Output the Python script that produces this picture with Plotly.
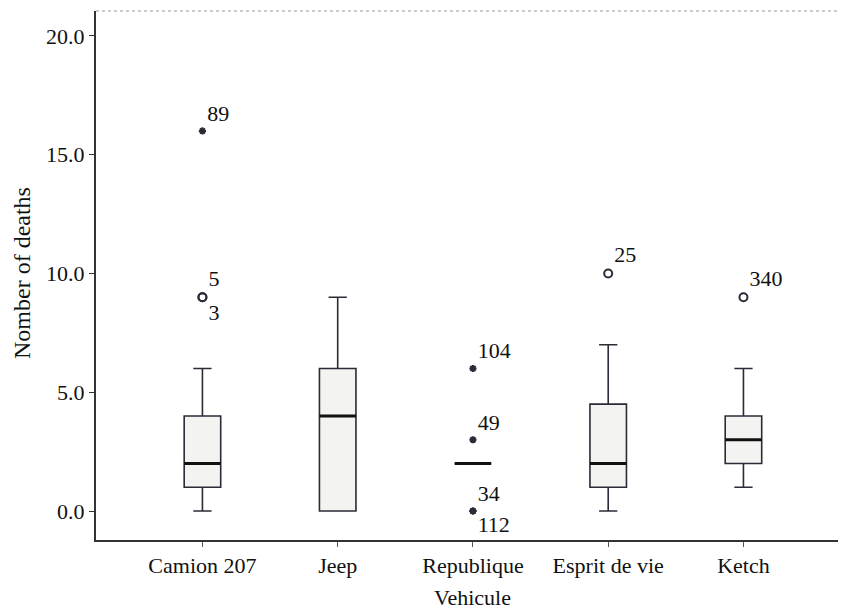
import plotly.graph_objects as go

# ---- data ----
categories = ["Camion 207", "Jeep", "Republique", "Esprit de vie", "Ketch"]
q1 = [1.0, 0.0, 2.0, 1.0, 2.0]
median = [2.0, 4.0, 2.0, 2.0, 3.0]
q3 = [4.0, 6.0, 2.0, 4.5, 4.0]
lower_fence = [0.0, 0.0, 2.0, 0.0, 1.0]
upper_fence = [6.0, 9.0, 2.0, 7.0, 6.0]

# outliers: category index, value, case label, kind ("o" mild, "*" extreme)
out_cat = [0, 0, 0, 2, 2, 2, 2, 3, 4]
out_val = [16.0, 9.0, 9.0, 6.0, 3.0, 0.0, 0.0, 10.0, 9.0]
out_lab = ["89", "5", "3", "104", "49", "34", "112", "25", "340"]
out_kind = ["*", "o", "o", "*", "*", "*", "*", "o", "o"]

y_ticks = [0, 5, 10, 15, 20]

# ---- style ----
FONT = "Liberation Serif"
LINE = "#2b2b38"
FILL = "#f3f3f1"
BOX_W = 0.27
PLOT_W = 747
PLOT_H = 529

fig = go.Figure()

xs = list(range(len(categories)))
fig.add_trace(go.Box(
    x=xs, q1=q1, median=median, q3=q3,
    lowerfence=lower_fence, upperfence=upper_fence,
    width=BOX_W, whiskerwidth=0.5,
    fillcolor=FILL, line=dict(color=LINE, width=1.6),
    boxpoints=False, showlegend=False, hoverinfo="skip",
))

# thicker median lines
mx, my = [], []
for i, m in enumerate(median):
    mx += [i - BOX_W / 2, i + BOX_W / 2, None]
    my += [m, m, None]
fig.add_trace(go.Scatter(x=mx, y=my, mode="lines",
                         line=dict(color="#111111", width=3),
                         showlegend=False, hoverinfo="skip"))

# outliers
seen = {}
positions = []
for c, v in zip(out_cat, out_val):
    key = (c, v)
    n = seen.get(key, 0)
    seen[key] = n + 1
    positions.append("top right" if n == 0 else "bottom right")

for kind, sym, size in [("o", "circle-open", 8), ("*", "asterisk-open", 6)]:
    idx = [k for k in range(len(out_val)) if out_kind[k] == kind]
    fig.add_trace(go.Scatter(
        x=[out_cat[k] for k in idx], y=[out_val[k] for k in idx],
        mode="markers+text",
        text=[out_lab[k] for k in idx],
        textposition=[positions[k] for k in idx],
        textfont=dict(family=FONT, size=22, color="#111111"),
        marker=dict(symbol=sym, size=size, color=LINE,
                    line=dict(color=LINE, width=2)),
        showlegend=False, hoverinfo="skip", cliponaxis=False,
    ))

fig.update_layout(
    width=838, height=601,
    margin=dict(l=88, r=3, t=3, b=69),
    paper_bgcolor="white", plot_bgcolor="white",
    font=dict(family=FONT, size=22, color="#111111"),
    xaxis=dict(
        range=[-0.787, 4.736], tickmode="array", tickvals=xs, ticktext=categories,
        showgrid=False, zeroline=False, showline=True, linecolor="#333333", linewidth=2,
        ticks="outside", ticklen=5, tickcolor="#555555",
        tickfont=dict(family=FONT, size=22),
    ),
    yaxis=dict(
        range=[-1.22, 21.05], tickmode="array", tickvals=y_ticks,
        tickformat=".1f",
        showgrid=False, zeroline=False, showline=True, linecolor="#333333", linewidth=2,
        ticks="outside", ticklen=5, tickcolor="#333333",
        tickfont=dict(family=FONT, size=22),
    ),
    shapes=[dict(type="line", xref="paper", yref="paper", x0=0, x1=1, y0=1, y1=1,
                 line=dict(color="#999999", width=1, dash="dot"))],
    annotations=[
        dict(text="Nomber of deaths", xref="paper", yref="paper",
             x=-(96 - 22) / PLOT_W, y=(540 - 273) / PLOT_H, textangle=-90,
             showarrow=False, xanchor="center", yanchor="middle",
             font=dict(family=FONT, size=24)),
        dict(text="Vehicule", xref="paper", yref="paper",
             x=(472 - 96) / PLOT_W, y=-(597 - 540) / PLOT_H,
             showarrow=False, xanchor="center", yanchor="middle",
             font=dict(family=FONT, size=22)),
    ],
)

fig.write_html("out.html")
